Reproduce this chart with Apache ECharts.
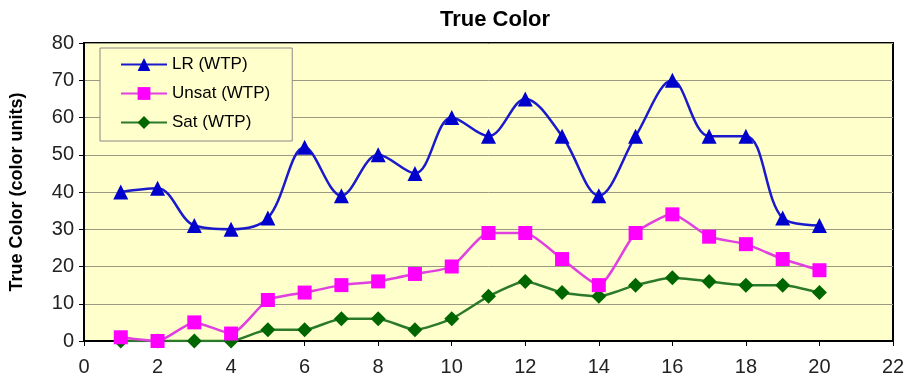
<!DOCTYPE html>
<html><head><meta charset="utf-8">
<script src="https://cdn.jsdelivr.net/npm/echarts@6/dist/echarts.min.js"></script>
<style>html,body{margin:0;padding:0;background:#fff}#c{width:917px;height:389px}</style>
</head><body><div id="c"></div>
<script>
const samples = [1,2,3,4,5,6,7,8,9,10,11,12,13,14,15,16,17,18,19,20];
const lrWTP = [40,41,31,30,33,52,39,50,45,60,55,65,55,39,55,70,55,55,33,31];
const unsatWTP = [1,0,5,2,11,13,15,16,18,20,29,29,22,15,29,34,28,26,22,19];
const satWTP = [0,0,0,0,3,3,6,6,3,6,12,16,13,12,15,17,16,15,15,13];
const seriesNames = ['LR (WTP)','Unsat (WTP)','Sat (WTP)'];

const pairs = arr => samples.map((x,i)=>[x,arr[i]]);
const font = 'Liberation Sans, Arial, sans-serif';
const chart = echarts.init(document.getElementById('c'));
chart.setOption({
  animation:false,
  title:{text:'True Color',left:490,textAlign:'center',top:4,
    textStyle:{fontFamily:font,fontWeight:'bold',fontSize:22,color:'#000'}},
  grid:{left:83,right:24,top:43,bottom:48,show:true,backgroundColor:'#ffffcc',borderColor:'#000',borderWidth:2},
  legend:{orient:'vertical',left:100,top:48,padding:[8,22,10,20],itemGap:12,itemWidth:46,itemHeight:16,
    backgroundColor:'#ffffcc',borderColor:'#888',borderWidth:1,
    textStyle:{fontFamily:font,fontSize:17,color:'#000'},data:seriesNames},
  xAxis:{type:'value',min:0,max:22,interval:2,
    axisLine:{lineStyle:{color:'#000',width:2}},
    axisTick:{show:true,length:5,lineStyle:{color:'#000'}},
    splitLine:{show:false},
    axisLabel:{fontFamily:font,fontSize:20,color:'#222',margin:16}},
  yAxis:{type:'value',min:0,max:80,interval:10,
    name:'True Color (color units)',nameLocation:'middle',nameGap:58,
    nameTextStyle:{fontFamily:font,fontWeight:'bold',fontSize:18,color:'#000'},
    axisLine:{show:true,lineStyle:{color:'#000',width:2}},
    axisTick:{show:true,length:5,inside:false,lineStyle:{color:'#000'}},
    splitLine:{lineStyle:{color:'#9a9a80',width:1}},
    axisLabel:{fontFamily:font,fontSize:20,color:'#222',margin:10}},
  series:[
    {name:seriesNames[0],type:'line',data:pairs(lrWTP),smooth:0.35,symbol:'triangle',symbolSize:15,
      itemStyle:{color:'#0000cc'},lineStyle:{color:'#1a1acc',width:2.5},z:3},
    {name:seriesNames[1],type:'line',data:pairs(unsatWTP),smooth:0.2,symbol:'rect',symbolSize:14,
      itemStyle:{color:'#ff00ff'},lineStyle:{color:'#e040e0',width:2.5},z:2},
    {name:seriesNames[2],type:'line',data:pairs(satWTP),smooth:0.2,symbol:'diamond',symbolSize:15,
      itemStyle:{color:'#006600'},lineStyle:{color:'#2a7a2a',width:2.5},z:1}
  ]
});
</script></body></html>
